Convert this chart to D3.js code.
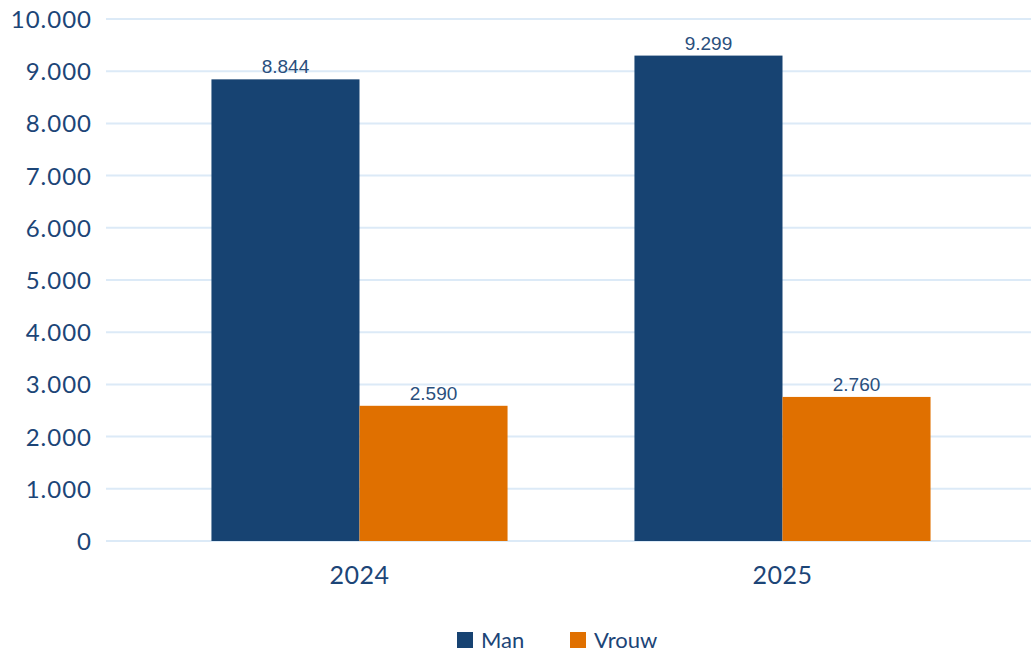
<!DOCTYPE html>
<html>
<head>
<meta charset="utf-8">
<script src="https://cdn.jsdelivr.net/npm/d3@7"></script>
<style>
  body { margin: 0; background: #fff; }
  svg { display: block; }
</style>
</head>
<body>
<svg id="chart" width="1031" height="653"></svg>
<script>
// Aantallen per jaar en geslacht
const years = ["2024", "2025"];
const series = ["Man", "Vrouw"];
const manValues = [8844, 9299];
const vrouwValues = [2590, 2760];
const yTicks = [0, 1000, 2000, 3000, 4000, 5000, 6000, 7000, 8000, 9000, 10000];
const colors = { Man: "#174372", Vrouw: "#e07000" };

const svg = d3.select("#chart");
const fmt = d3.formatLocale({ decimal: ",", thousands: ".", grouping: [3], currency: ["€", ""] }).format(",d");

const gridLeft = 106, gridRight = 1031;
const y = d3.scaleLinear().domain([0, 10000]).range([541, 19]);
const x0 = d3.scaleBand().domain(years).range([148, 994]).paddingInner(0.3).paddingOuter(0.15);
const x1 = d3.scaleBand().domain(series).range([0, x0.bandwidth()]);

const rows = years.map((yr, i) => ({ year: yr, Man: manValues[i], Vrouw: vrouwValues[i] }));

// rasterlijnen
svg.append("g")
  .selectAll("line")
  .data(yTicks)
  .join("line")
  .attr("x1", gridLeft).attr("x2", gridRight)
  .attr("y1", d => y(d)).attr("y2", d => y(d))
  .attr("stroke", "#dceaf7").attr("stroke-width", 2);

// y-as labels
const yAxis = d3.axisLeft(y).tickValues(yTicks).tickFormat(fmt).tickSize(0).tickPadding(0);
const ya = svg.append("g").attr("transform", "translate(92,0)").call(yAxis);
ya.select(".domain").remove();
ya.selectAll("text")
  .attr("font-family", "Lato, 'Open Sans', sans-serif")
  .attr("font-size", 24)
  .attr("letter-spacing", 1)
  .attr("fill", "#1c4577")
  .attr("dy", "0.35em");

// staven
const groups = svg.append("g").selectAll("g")
  .data(rows)
  .join("g")
  .attr("transform", d => `translate(${x0(d.year)},0)`);

groups.selectAll("rect")
  .data(d => series.map(s => ({ key: s, value: d[s] })))
  .join("rect")
  .attr("x", d => x1(d.key))
  .attr("width", x1.bandwidth())
  .attr("y", d => y(d.value))
  .attr("height", d => y(0) - y(d.value))
  .attr("fill", d => colors[d.key]);

groups.selectAll("text.val")
  .data(d => series.map(s => ({ key: s, value: d[s] })))
  .join("text")
  .attr("class", "val")
  .attr("x", d => x1(d.key) + x1.bandwidth() / 2)
  .attr("y", d => y(d.value) - 6)
  .attr("text-anchor", "middle")
  .attr("font-family", "'Liberation Sans', Arial, sans-serif")
  .attr("font-size", 19)
  .attr("fill", "#2a4f7d")
  .text(d => fmt(d.value));

// x-as labels
const xAxis = d3.axisBottom(x0).tickSize(0).tickPadding(0);
const xa = svg.append("g").attr("transform", "translate(0,566)").call(xAxis);
xa.select(".domain").remove();
xa.selectAll("text")
  .attr("font-family", "Lato, 'Open Sans', sans-serif")
  .attr("font-size", 25)
  .attr("letter-spacing", 0.5)
  .attr("fill", "#1c4577")
  .attr("dy", "0.71em");

// legenda
const legend = svg.append("g");
const legendItems = [{ key: "Man", x: 457 }, { key: "Vrouw", x: 570 }];
const li = legend.selectAll("g").data(legendItems).join("g")
  .attr("transform", d => `translate(${d.x},632)`);
li.append("rect").attr("width", 16).attr("height", 16).attr("fill", d => colors[d.key]);
li.append("text")
  .attr("x", 24).attr("y", 8).attr("dy", "0.35em")
  .attr("font-family", "Lato, 'Open Sans', sans-serif")
  .attr("font-size", 22)
  .attr("fill", "#1c4577")
  .text(d => d.key);
</script>
</body>
</html>
